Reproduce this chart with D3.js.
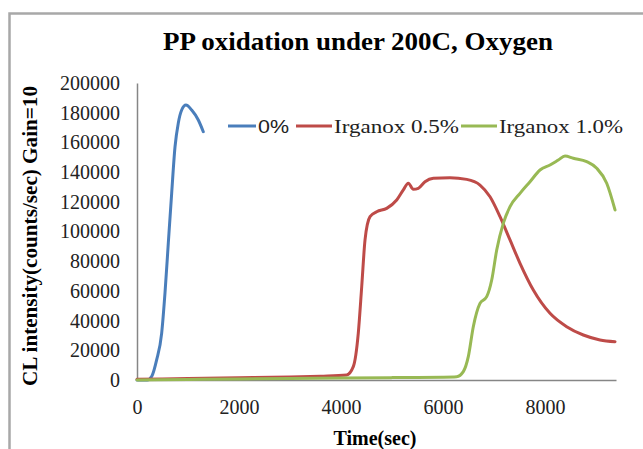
<!DOCTYPE html>
<html><head><meta charset="utf-8">
<script src="https://cdn.jsdelivr.net/npm/d3@7"></script>
<style>body{margin:0;background:#fff}svg{display:block}</style>
</head><body>
<script>
const chartTitle = "PP oxidation under 200C, Oxygen";
const xTitle = "Time(sec)";
const yTitle = "CL intensity(counts/sec) Gain=10";
const seriesNames = ["0%", "Irganox 0.5%", "Irganox 1.0%"];
const seriesColors = ["#4a7ebb", "#be4b48", "#98b954"];
const xTicks = [0, 2000, 4000, 6000, 8000];
const yTicks = [0,20000,40000,60000,80000,100000,120000,140000,160000,180000,200000];

const time0 = [0, 200, 290, 385, 484, 549, 614, 680, 745, 810, 876, 960, 1072, 1202, 1300];
const cl0   = [0, 0, 2500, 13500, 31600, 58600, 92300, 125900, 156900, 173100, 181800, 185200, 181800, 175100, 167200];

const time05 = [0, 1000, 2000, 3000, 3600, 4111, 4241, 4339, 4406, 4471, 4569, 4700, 4896, 5092, 5222, 5320, 5418, 5516, 5647, 5810, 6137, 6465, 6725, 6922, 7118, 7314, 7510, 7771, 8098, 8425, 8751, 9078, 9373];
const cl05   = [500, 1000, 1500, 2000, 2600, 3400, 9000, 31600, 62800, 94300, 110000, 113300, 115600, 121200, 128000, 132500, 128400, 129100, 133500, 135800, 136200, 135100, 131300, 123400, 110000, 94300, 78600, 60600, 44900, 35900, 30300, 27000, 25800];

const time10 = [0, 1000, 2000, 3000, 4000, 5000, 6000, 6269, 6398, 6496, 6594, 6725, 6857, 6955, 7053, 7182, 7314, 7510, 7706, 7902, 8098, 8261, 8392, 8555, 8818, 9014, 9210, 9373];
const cl10   = [0, 400, 700, 1000, 1300, 1600, 1900, 2200, 5600, 15700, 35900, 51600, 56100, 67300, 87500, 105500, 116700, 125700, 133500, 141400, 144800, 148100, 150800, 149300, 147000, 142600, 132500, 114500];

const W = 643, H = 449;
const svg = d3.select("body").append("svg").attr("width", W).attr("height", H);
svg.append("rect").attr("width", W).attr("height", H).attr("fill", "#fff");
svg.append("rect").attr("x", 9.5).attr("y", 13.5).attr("width", 640).attr("height", 450)
  .attr("fill", "none").attr("stroke", "#a8a8a8").attr("stroke-width", 2.5);

const x = d3.scaleLinear().domain([0, 9392]).range([137, 616]);
const y = d3.scaleLinear().domain([0, 200000]).range([380, 83]);

const serif = "'Liberation Serif','Times New Roman',serif";

// axes
const yAxis = d3.axisLeft(y).tickValues(yTicks).tickSize(0).tickPadding(17).tickFormat(d3.format("d"));
const gy = svg.append("g").attr("transform", "translate(137,0)").call(yAxis);
const xAxis = d3.axisBottom(x).tickValues(xTicks).tickSize(0).tickPadding(20).tickFormat(d3.format("d"));
const gx = svg.append("g").attr("transform", "translate(0,380)").call(xAxis);
[gx, gy].forEach(g => {
  g.select(".domain").attr("stroke", "#868686").attr("stroke-width", 1.5);
  g.selectAll("text").attr("font-family", serif).attr("font-size", 20).attr("fill", "#222");
});

const line = d3.line().x(d => x(d[0])).y(d => y(d[1])).curve(d3.curveMonotoneX);
const data = [
  d3.zip(time0, cl0),
  d3.zip(time05, cl05),
  d3.zip(time10, cl10)
];
data.forEach((d, i) => {
  svg.append("path").datum(d).attr("d", line).attr("fill", "none")
    .attr("stroke", seriesColors[i]).attr("stroke-width", 3)
    .attr("stroke-linejoin", "round").attr("stroke-linecap", "round");
});

// title
svg.append("text").attr("x", 358).attr("y", 50).attr("text-anchor", "middle")
  .attr("font-family", serif).attr("font-weight", "bold").attr("font-size", 25)
  .attr("textLength", 390).attr("lengthAdjust", "spacingAndGlyphs").text(chartTitle);

// axis titles
svg.append("text").attr("x", 375).attr("y", 445).attr("text-anchor", "middle")
  .attr("font-family", serif).attr("font-weight", "bold").attr("font-size", 20).text(xTitle);
svg.append("text").attr("transform", "translate(37,236) rotate(-90)").attr("text-anchor", "middle")
  .attr("font-family", serif).attr("font-weight", "bold").attr("font-size", 20)
  .attr("textLength", 300).attr("lengthAdjust", "spacingAndGlyphs").text(yTitle);

// legend
const legY = 126;
const legItems = [
  {x1: 228, x2: 256, tx: 258, tw: 31, font: "'Liberation Sans',Arial,sans-serif"},
  {x1: 296, x2: 332, tx: 334, tw: 125, font: serif},
  {x1: 461, x2: 497, tx: 499, tw: 124, font: serif}
];
legItems.forEach((L, i) => {
  svg.append("line").attr("x1", L.x1).attr("x2", L.x2).attr("y1", legY).attr("y2", legY)
    .attr("stroke", seriesColors[i]).attr("stroke-width", 3);
  svg.append("text").attr("x", L.tx).attr("y", legY + 7).attr("font-family", L.font)
    .attr("font-size", 19).attr("fill", "#222")
    .attr("textLength", L.tw).attr("lengthAdjust", "spacingAndGlyphs").text(seriesNames[i]);
});
</script>
</body></html>
